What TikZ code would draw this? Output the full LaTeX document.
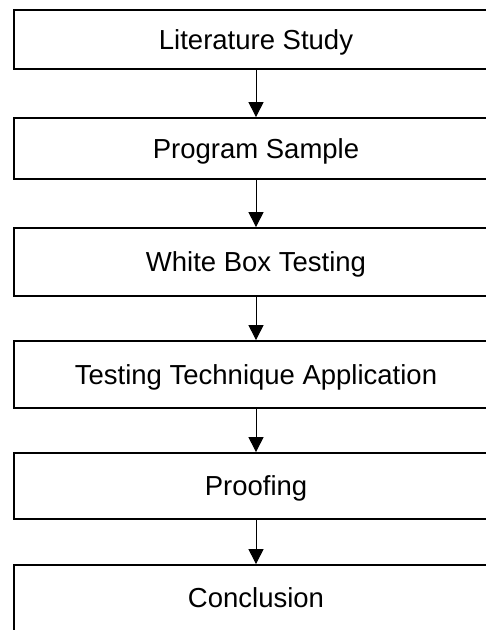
\documentclass[tikz,border=0pt]{standalone}
\usepackage{fontspec}
\setmainfont{Liberation Sans}
\usepackage{tikz}
\usetikzlibrary{positioning,arrows.meta}

\begin{document}
\begin{tikzpicture}[
            x=1pt, y=-1pt,
            auto
        ]
            \useasboundingbox (0,0) rectangle (486,630);
            \clip (0,0) rectangle (486,630);
            \begin{scope}[
                every node/.style={rectangle, draw, line width=1.8pt, minimum width=484pt,
                    inner sep=0pt, text depth=0pt, font=\fontsize{27.5}{32}\selectfont}
            ]
                % Steps
                \node[minimum height=59pt] (lit)   at (256, 39.5)  {Literature Study};
                \node[minimum height=61pt] (prog)  at (256, 148.5) {Program Sample};
                \node[minimum height=68pt] (wbt)   at (256, 262)   {White Box Testing};
                \node[minimum height=67pt] (tech)  at (256, 374.5) {Testing Technique Application};
                \node[minimum height=66pt] (proof) at (256, 486)   {Proofing};
                \node[minimum height=66pt] (concl) at (256, 598)   {Conclusion};
            \end{scope}
            \begin{scope}[
                every path/.style={line width=1pt, -{Triangle[width=15pt,length=15pt]}}
            ]
                % Flow
                \draw (lit)   -- (prog);  % study -> sample
                \draw (prog)  -- (wbt);   % sample -> white box
                \draw (wbt)   -- (tech);  % white box -> technique
                \draw (tech)  -- (proof); % technique -> proofing
                \draw (proof) -- (concl); % proofing -> conclusion
            \end{scope}
        \end{tikzpicture}
\end{document}
